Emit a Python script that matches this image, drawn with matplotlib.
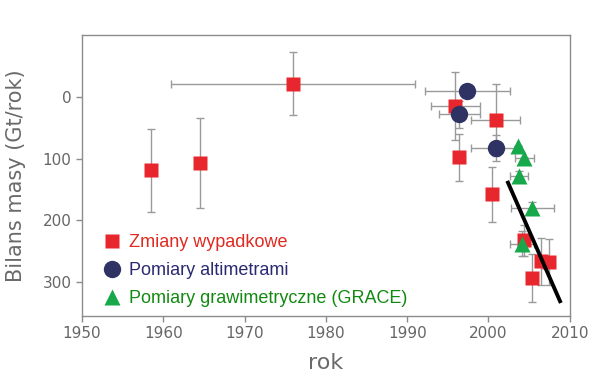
import numpy as np
import matplotlib.pyplot as plt
from matplotlib.lines import Line2D

# Zmiany wypadkowe (red squares)
red_year = [1958.5, 1964.5, 1976.0, 1995.9, 1996.4, 2000.9, 2000.4, 2004.4, 2006.5, 2007.4, 2005.4]
red_val = [119, 107, -21, 15, 98, 37, 158, 232, 266, 268, 294]
red_xerr = [0, 0, 15, 3, 0, 3, 0, 0, 0, 0, 0]
red_yerr = [67, 73, 51, 55, 38, 58, 44, 25, 38, 37, 39]

# Pomiary altimetrami (navy circles)
blue_year = [1997.4, 1996.4, 2000.9]
blue_val = [-10, 28, 83]
blue_xerr = [5.2, 2.5, 3.0]
blue_yerr = [0, 22, 21]

# Pomiary grawimetryczne (GRACE) (green triangles)
green_year = [2003.6, 2004.4, 2003.8, 2005.4, 2004.1]
green_val = [80, 99, 128, 180, 238]
green_xerr = [0, 1.2, 1.1, 2.6, 1.5]
green_yerr = [0, 0, 8, 10, 20]

# trend line
trend_year = [2002.4, 2008.8]
trend_val = [139, 331]

RED = '#e8262d'
NAVY = '#2f3363'
GREEN = '#16a84a'
ERR = '#9a9a9a'

fig = plt.figure(figsize=(6.14, 3.78), dpi=100)
ax = fig.add_axes([0.1336, 0.164, 0.7944, 0.743])

ekw = dict(fmt='none', ecolor=ERR, elinewidth=1.0, capsize=3, capthick=1.0, zorder=1)
ax.errorbar(red_year, red_val, xerr=red_xerr, yerr=red_yerr, **ekw)
ax.errorbar(blue_year, blue_val, xerr=blue_xerr, yerr=blue_yerr, **ekw)
ax.errorbar(green_year, green_val, xerr=green_xerr, yerr=green_yerr, **ekw)

ax.plot(red_year, red_val, 's', color=RED, ms=9.5, mec='none', zorder=3)
ax.plot(blue_year, blue_val, 'o', color=NAVY, ms=12.5, mec='none', zorder=4)
ax.plot(trend_year, trend_val, '-', color='black', lw=2.8, zorder=5)
ax.plot(green_year, green_val, '^', color=GREEN, ms=12, mec='none', zorder=6)

ax.set_xlim(1950, 2010)
ax.set_ylim(355, -100)
ax.set_xticks([1950, 1960, 1970, 1980, 1990, 2000, 2010])
ax.set_yticks([0, 100, 200, 300])

for s in ax.spines.values():
    s.set_color('#8c8c8c')
    s.set_linewidth(1.0)
ax.tick_params(axis='both', which='major', direction='out', length=4, width=1.0,
               color='#8c8c8c', labelcolor='#666666', labelsize=11)

ax.set_xlabel('rok', fontsize=16, color='#6a6a6a', labelpad=8)
ax.set_ylabel('Bilans masy (Gt/rok)', fontsize=15, color='#6a6a6a', labelpad=12)

handles = [
    Line2D([], [], ls='none', marker='s', color=RED, ms=9.5, mec='none'),
    Line2D([], [], ls='none', marker='o', color=NAVY, ms=12.5, mec='none'),
    Line2D([], [], ls='none', marker='^', color=GREEN, ms=12, mec='none'),
]
labels = ['Zmiany wypadkowe', 'Pomiary altimetrami', 'Pomiary grawimetryczne (GRACE)']
leg = ax.legend(handles, labels, loc='lower left', bbox_to_anchor=(0.013, -0.014),
                frameon=False, handlelength=1.2, handletextpad=0.35, labelspacing=0.62,
                borderaxespad=0.3, prop={'family': 'Liberation Sans', 'size': 13})
for txt, c in zip(leg.get_texts(), ['#e02a20', '#2a2a72', '#128a12']):
    txt.set_color(c)

fig.savefig('out.png', dpi=100)
